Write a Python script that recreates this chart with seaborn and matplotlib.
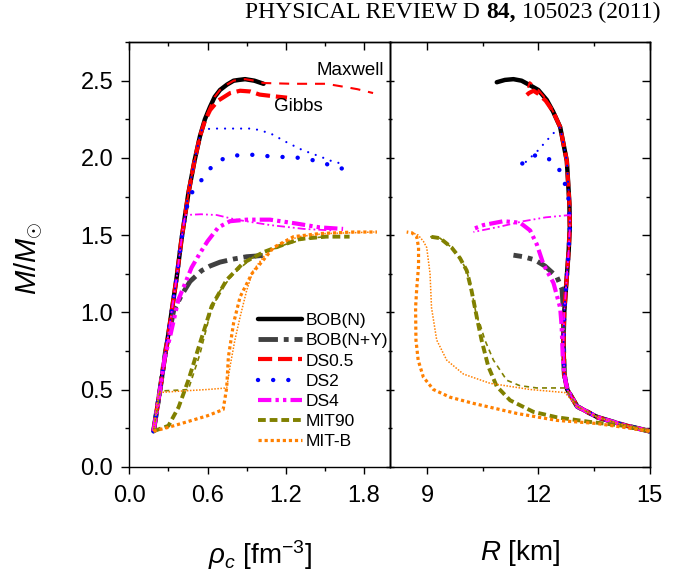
import matplotlib
matplotlib.use("Agg")
import matplotlib.pyplot as plt
import seaborn as sns
from matplotlib.ticker import MultipleLocator, FormatStrFormatter

# ---------------- data: left panel (central density, mass) ----------------
bobn_rho = [0.186, 0.236, 0.312, 0.364, 0.40, 0.453, 0.50, 0.542, 0.58, 0.619, 0.655, 0.696, 0.75, 0.80, 0.84, 0.888, 0.96, 1.03]
bobn_rho_M = [0.23, 0.50, 0.93, 1.23, 1.47, 1.77, 1.98, 2.14, 2.25, 2.33, 2.395, 2.44, 2.475, 2.50, 2.505, 2.51, 2.50, 2.48]

bobny_rho = [0.186, 0.236, 0.28, 0.31, 0.34, 0.40, 0.466, 0.555, 0.62, 0.696, 0.80, 0.90, 0.98, 1.05]
bobny_rho_M = [0.23, 0.50, 0.76, 0.88, 1.01, 1.11, 1.20, 1.27, 1.30, 1.325, 1.345, 1.36, 1.365, 1.37]

ds05g_rho = [0.186, 0.236, 0.312, 0.364, 0.40, 0.453, 0.50, 0.542, 0.58, 0.62, 0.68, 0.774, 0.85, 0.93, 1.0, 1.1, 1.21]
ds05g_rho_M = [0.23, 0.50, 0.93, 1.23, 1.47, 1.77, 1.98, 2.14, 2.24, 2.31, 2.37, 2.42, 2.435, 2.43, 2.41, 2.40, 2.39]
ds05m_rho = [0.186, 0.236, 0.312, 0.364, 0.40, 0.453, 0.50, 0.542, 0.58, 0.619, 0.655, 0.696, 0.75, 0.80, 0.84, 0.888, 0.96, 1.03, 1.25, 1.51, 1.65, 1.75, 1.87]
ds05m_rho_M = [0.23, 0.50, 0.93, 1.23, 1.47, 1.77, 1.98, 2.14, 2.25, 2.33, 2.395, 2.44, 2.475, 2.50, 2.505, 2.51, 2.50, 2.485, 2.48, 2.48, 2.46, 2.445, 2.42]

ds2g_rho = [0.186, 0.236, 0.312, 0.364, 0.40, 0.43, 0.455, 0.49, 0.53, 0.575, 0.619, 0.67, 0.734, 0.85, 0.96, 1.08, 1.20, 1.32, 1.44, 1.55, 1.68]
ds2g_rho_M = [0.23, 0.50, 0.93, 1.23, 1.47, 1.64, 1.73, 1.79, 1.83, 1.88, 1.93, 1.97, 2.00, 2.02, 2.02, 2.01, 2.005, 2.00, 1.98, 1.95, 1.92]
ds2m_rho = [0.186, 0.236, 0.312, 0.364, 0.40, 0.453, 0.50, 0.542, 0.558, 0.65, 0.80, 0.95, 1.08, 1.21, 1.33, 1.46, 1.55, 1.64]
ds2m_rho_M = [0.23, 0.50, 0.93, 1.23, 1.47, 1.77, 1.98, 2.14, 2.185, 2.19, 2.19, 2.19, 2.16, 2.10, 2.05, 2.01, 1.98, 1.96]

ds4g_rho = [0.186, 0.236, 0.27, 0.312, 0.376, 0.478, 0.54, 0.60, 0.683, 0.773, 0.90, 1.08, 1.28, 1.46, 1.64]
ds4g_rho_M = [0.23, 0.50, 0.70, 0.84, 1.08, 1.29, 1.38, 1.46, 1.55, 1.59, 1.60, 1.60, 1.575, 1.55, 1.54]
ds4m_rho = [0.186, 0.236, 0.312, 0.364, 0.40, 0.428, 0.55, 0.67, 0.82, 1.08, 1.34, 1.56]
ds4m_rho_M = [0.23, 0.50, 0.93, 1.23, 1.47, 1.63, 1.635, 1.63, 1.60, 1.565, 1.54, 1.53]

mit90g_rho = [0.186, 0.30, 0.378, 0.453, 0.542, 0.632, 0.747, 0.875, 1.03, 1.156, 1.31, 1.51, 1.69]
mit90g_rho_M = [0.23, 0.265, 0.385, 0.56, 0.80, 1.04, 1.21, 1.32, 1.39, 1.43, 1.475, 1.49, 1.49]
mit90m_rho = [0.186, 0.236, 0.30, 0.40, 0.453, 0.542, 0.62, 0.696, 0.80, 0.953, 1.08, 1.20, 1.35, 1.50]
mit90m_rho_M = [0.23, 0.49, 0.493, 0.497, 0.50, 0.73, 0.99, 1.14, 1.25, 1.36, 1.40, 1.44, 1.475, 1.49]

mitbg_rho = [0.186, 0.30, 0.44, 0.60, 0.72, 0.747, 0.76, 0.80, 0.85, 0.94, 1.03, 1.107, 1.26, 1.46, 1.72, 1.90]
mitbg_rho_M = [0.23, 0.255, 0.29, 0.33, 0.37, 0.51, 0.71, 0.93, 1.10, 1.25, 1.34, 1.42, 1.49, 1.51, 1.52, 1.52]
mitbm_rho = [0.186, 0.225, 0.40, 0.60, 0.747, 0.773, 0.81, 0.85, 0.90, 0.95, 1.03, 1.15, 1.30, 1.50, 1.70, 1.88]
mitbm_rho_M = [0.23, 0.48, 0.49, 0.50, 0.51, 0.65, 0.82, 0.97, 1.14, 1.27, 1.36, 1.44, 1.49, 1.51, 1.515, 1.52]

# ---------------- data: right panel (radius, mass) ----------------
bobn_R = [15.0, 14.3, 13.6, 13.05, 12.78, 12.70, 12.68, 12.70, 12.76, 12.82, 12.85, 12.84, 12.77, 12.59, 12.40, 12.23, 12.00, 11.78, 11.55, 11.33, 11.10, 10.88]
bobn_R_M = [0.23, 0.27, 0.32, 0.39, 0.50, 0.60, 0.80, 1.00, 1.20, 1.40, 1.55, 1.70, 1.98, 2.20, 2.30, 2.375, 2.44, 2.47, 2.50, 2.51, 2.505, 2.49]

bobny_R = [15.0, 14.3, 13.6, 13.05, 12.78, 12.70, 12.68, 12.68, 12.64, 12.5, 12.18, 11.9, 11.6, 11.33]
bobny_R_M = [0.23, 0.27, 0.32, 0.39, 0.50, 0.60, 0.80, 1.00, 1.15, 1.23, 1.30, 1.34, 1.36, 1.37]

ds05g_R = [15.0, 14.3, 13.6, 13.05, 12.78, 12.70, 12.68, 12.70, 12.76, 12.82, 12.85, 12.84, 12.77, 12.59, 12.40, 12.2, 12.0, 11.87, 11.75, 11.6]
ds05g_R_M = [0.23, 0.27, 0.32, 0.39, 0.50, 0.60, 0.80, 1.00, 1.20, 1.40, 1.55, 1.70, 1.98, 2.20, 2.30, 2.37, 2.415, 2.435, 2.42, 2.39]
ds05m_R = [15.0, 14.3, 13.6, 13.05, 12.78, 12.70, 12.68, 12.70, 12.76, 12.82, 12.85, 12.84, 12.77, 12.59, 12.40, 12.23, 12.00, 11.85, 11.77, 11.72]
ds05m_R_M = [0.23, 0.27, 0.32, 0.39, 0.50, 0.60, 0.80, 1.00, 1.20, 1.40, 1.55, 1.70, 1.98, 2.20, 2.30, 2.375, 2.44, 2.475, 2.49, 2.455]

ds2g_R = [15.0, 14.3, 13.6, 13.05, 12.78, 12.70, 12.68, 12.70, 12.76, 12.82, 12.85, 12.83, 12.67, 12.5, 12.38, 12.15, 11.96, 11.75, 11.55]
ds2g_R_M = [0.23, 0.27, 0.32, 0.39, 0.50, 0.60, 0.80, 1.00, 1.20, 1.40, 1.55, 1.72, 1.88, 1.95, 1.98, 2.01, 2.02, 2.0, 1.96]
ds2m_R = [15.0, 14.3, 13.6, 13.05, 12.78, 12.70, 12.68, 12.70, 12.76, 12.82, 12.85, 12.84, 12.77, 12.59, 12.41, 12.18, 12.0, 11.78, 11.6]
ds2m_R_M = [0.23, 0.27, 0.32, 0.39, 0.50, 0.60, 0.80, 1.00, 1.20, 1.40, 1.55, 1.70, 1.98, 2.20, 2.16, 2.10, 2.05, 2.0, 1.96]

ds4g_R = [15.0, 14.3, 13.6, 13.05, 12.78, 12.70, 12.66, 12.63, 12.59, 12.41, 12.14, 11.96, 11.78, 11.51, 11.06, 10.52, 10.25]
ds4g_R_M = [0.23, 0.27, 0.32, 0.39, 0.50, 0.60, 0.71, 0.91, 1.03, 1.19, 1.31, 1.44, 1.53, 1.58, 1.59, 1.565, 1.54]
ds4m_R = [15.0, 14.3, 13.6, 13.05, 12.78, 12.70, 12.68, 12.70, 12.76, 12.82, 12.85, 12.86, 12.2, 11.6, 10.97, 10.25]
ds4m_R_M = [0.23, 0.27, 0.32, 0.39, 0.50, 0.60, 0.80, 1.00, 1.20, 1.40, 1.55, 1.63, 1.615, 1.59, 1.555, 1.52]

mit90g_R = [15.0, 14.3, 13.4, 12.5, 11.87, 11.24, 10.88, 10.65, 10.47, 10.34, 10.20, 10.07, 9.89, 9.66, 9.35, 9.08]
mit90g_R_M = [0.23, 0.265, 0.29, 0.32, 0.355, 0.43, 0.52, 0.65, 0.82, 0.97, 1.14, 1.27, 1.35, 1.42, 1.48, 1.49]
mit90m_R = [15.0, 14.3, 13.6, 13.05, 12.78, 12.72, 11.96, 11.5, 11.15, 10.79, 10.56, 10.42, 10.34, 10.20, 10.07, 9.89, 9.66, 9.35, 9.08]
mit90m_R_M = [0.23, 0.27, 0.32, 0.39, 0.49, 0.51, 0.51, 0.525, 0.56, 0.69, 0.82, 0.93, 0.97, 1.14, 1.27, 1.35, 1.42, 1.48, 1.49]

mitbg_R = [15.0, 14.3, 13.57, 12.5, 11.42, 10.25, 9.62, 9.17, 8.90, 8.76, 8.70, 8.69, 8.72, 8.77, 8.77, 8.72, 8.59, 8.45]
mitbg_R_M = [0.23, 0.255, 0.28, 0.30, 0.345, 0.41, 0.45, 0.50, 0.58, 0.69, 0.82, 1.03, 1.15, 1.30, 1.42, 1.49, 1.515, 1.52]
mitbm_R = [15.0, 14.3, 13.6, 13.05, 12.72, 11.78, 10.70, 9.98, 9.53, 9.26, 9.12, 9.08, 8.99, 8.90, 8.76, 8.60]
mitbm_R_M = [0.23, 0.27, 0.32, 0.39, 0.48, 0.50, 0.54, 0.60, 0.69, 0.82, 1.03, 1.25, 1.42, 1.46, 1.50, 1.515]

legend_labels = ["BOB(N)", "BOB(N+Y)", "DS0.5", "DS2", "DS4", "MIT90", "MIT-B"]
x_ticks_rho = [0.0, 0.6, 1.2, 1.8]
x_ticks_R = [9, 12, 15]
y_ticks = [0.0, 0.5, 1.0, 1.5, 2.0, 2.5]

# ---------------- style ----------------
sns.set_theme(style="ticks")
plt.rcParams["font.family"] = ["Liberation Sans", "DejaVu Sans"]
plt.rcParams["mathtext.fontset"] = "custom"
plt.rcParams["mathtext.rm"] = "Liberation Sans"
plt.rcParams["mathtext.it"] = "Liberation Sans:italic"
plt.rcParams["mathtext.bf"] = "Liberation Sans:bold"
plt.rcParams["axes.linewidth"] = 1.0
for k in ("axes.edgecolor", "xtick.color", "ytick.color", "text.color",
          "axes.labelcolor", "xtick.labelcolor", "ytick.labelcolor"):
    plt.rcParams[k] = "black"

BLACK, GRAY, RED, BLUE, MAG, OLIVE, ORANGE = "#000000", "#404040", "#FF0000", "#0000FF", "#FF00FF", "#808000", "#FF8000"

styles = {
    "bobn":  dict(color=BLACK, lw=3.2, ls="-", cap="butt", z=2.0),
    "bobny": dict(color=GRAY, lw=3.5, ls=(0, (4, 1.2, 1, 1.2)), cap="butt", z=2.1),
    "ds05m": dict(color=RED, lw=1.5, ls=(0, (4.8, 3.8)), cap="butt", z=2.2),
    "ds05g": dict(color=RED, lw=3.0, ls=(0, (3.4, 1.4)), cap="butt", z=2.3),
    "ds2m":  dict(color=BLUE, lw=1.6, ls=(0, (0.01, 3.6)), cap="round", z=2.4),
    "ds2g":  dict(color=BLUE, lw=3.2, ls=(0, (0.01, 3.4)), cap="round", z=2.5),
    "ds4m":  dict(color=MAG, lw=1.3, ls=(0, (4.4, 1.7, 1, 1.7, 1, 1.7)), cap="butt", z=2.6),
    "ds4g":  dict(color=MAG, lw=3.0, ls=(0, (3.2, 1, 0.8, 1, 0.8, 1)), cap="butt", z=2.7),
    "mit90m": dict(color=OLIVE, lw=1.2, ls=(0, (3, 2.4)), cap="butt", z=2.8),
    "mit90g": dict(color=OLIVE, lw=2.8, ls=(0, (2, 1)), cap="butt", z=2.9),
    "mitbm": dict(color=ORANGE, lw=1.1, ls=(0, (1, 1)), cap="butt", z=3.0),
    "mitbg": dict(color=ORANGE, lw=2.3, ls=(0, (1, 0.9)), cap="butt", z=3.1),
}


def draw(ax, key, x, y):
    s = styles[key]
    sns.lineplot(x=x, y=y, ax=ax, sort=False, estimator=None, color=s["color"],
                 linewidth=s["lw"], linestyle=s["ls"], zorder=s["z"],
                 dash_capstyle=s["cap"], legend=False)
    return ax.lines[-1]


fig = plt.figure(figsize=(6.89, 5.73), dpi=100)
W, H = 689.0, 573.0
ax1 = fig.add_axes([129.3 / W, (H - 466.7) / H, 260.7 / W, 424.6 / H])
ax2 = fig.add_axes([390.0 / W, (H - 466.7) / H, 259.5 / W, 424.6 / H])
ax2.patch.set_alpha(0.0)

left_sets = [
    ("bobn", bobn_rho, bobn_rho_M), ("bobny", bobny_rho, bobny_rho_M),
    ("ds05m", ds05m_rho, ds05m_rho_M), ("ds05g", ds05g_rho, ds05g_rho_M),
    ("ds2m", ds2m_rho, ds2m_rho_M), ("ds2g", ds2g_rho, ds2g_rho_M),
    ("ds4m", ds4m_rho, ds4m_rho_M), ("ds4g", ds4g_rho, ds4g_rho_M),
    ("mit90m", mit90m_rho, mit90m_rho_M), ("mit90g", mit90g_rho, mit90g_rho_M),
    ("mitbm", mitbm_rho, mitbm_rho_M), ("mitbg", mitbg_rho, mitbg_rho_M),
]
right_sets = [
    ("bobn", bobn_R, bobn_R_M), ("bobny", bobny_R, bobny_R_M),
    ("ds05m", ds05m_R, ds05m_R_M), ("ds05g", ds05g_R, ds05g_R_M),
    ("ds2m", ds2m_R, ds2m_R_M), ("ds2g", ds2g_R, ds2g_R_M),
    ("ds4m", ds4m_R, ds4m_R_M), ("ds4g", ds4g_R, ds4g_R_M),
    ("mit90m", mit90m_R, mit90m_R_M), ("mit90g", mit90g_R, mit90g_R_M),
    ("mitbm", mitbm_R, mitbm_R_M), ("mitbg", mitbg_R, mitbg_R_M),
]

handles = {}
for key, x, y in left_sets:
    handles[key] = draw(ax1, key, x, y)
for key, x, y in right_sets:
    draw(ax2, key, x, y)

# ---------------- axes ----------------
TICK = dict(labelsize=17, width=1.0)
for ax in (ax1, ax2):
    ax.set_ylim(0, 2.75)
    ax.set_yticks(y_ticks)
    ax.yaxis.set_minor_locator(MultipleLocator(0.25))
    ax.yaxis.set_major_formatter(FormatStrFormatter("%.1f"))
    ax.set_xlabel("")
    ax.set_ylabel("")
    for sp in ax.spines.values():
        sp.set_visible(True)
        sp.set_linewidth(1.0)
        sp.set_color("black")

ax1.set_xlim(0, 2.0)
ax1.set_xticks(x_ticks_rho)
ax1.xaxis.set_minor_locator(MultipleLocator(0.3))
ax1.xaxis.set_major_formatter(FormatStrFormatter("%.1f"))
ax2.set_xlim(8, 15)
ax2.set_xticks(x_ticks_R)
ax2.xaxis.set_minor_locator(MultipleLocator(1.5))
ax2.xaxis.set_major_formatter(FormatStrFormatter("%d"))

for ax in (ax1, ax2):
    ax.tick_params(axis="x", which="major", direction="out", length=5, pad=8.5, top=False, **TICK)
    ax.tick_params(axis="x", which="minor", direction="out", length=3, width=1.0, top=False)
    # top ticks pointing inward
    sec = ax.secondary_xaxis("top")
    sec.set_xticks(ax.get_xticks())
    sec.xaxis.set_minor_locator(ax.xaxis.get_minor_locator())
    sec.tick_params(which="major", direction="in", length=5.5, width=1.0, labeltop=False)
    sec.tick_params(which="minor", direction="in", length=3, width=1.0)
    sec.spines["top"].set_linewidth(1.0)

ax1.tick_params(axis="y", which="major", direction="out", length=5.5, pad=6, right=False, **TICK)
ax1.tick_params(axis="y", which="minor", direction="out", length=3, width=1.0, right=False)
s1 = ax1.secondary_yaxis("right")
s1.set_yticks(y_ticks)
s1.yaxis.set_minor_locator(MultipleLocator(0.25))
s1.tick_params(which="major", direction="inout", length=6, width=1.0, labelright=False)
s1.tick_params(which="minor", direction="inout", length=3.5, width=1.0)

ax2.tick_params(axis="y", which="both", left=False, labelleft=False, right=False)
s2 = ax2.secondary_yaxis("right")
s2.set_yticks(y_ticks)
s2.yaxis.set_minor_locator(MultipleLocator(0.25))
s2.tick_params(which="major", direction="in", length=5.5, width=1.0, labelright=False)
s2.tick_params(which="minor", direction="in", length=3, width=1.0)

# axis labels
ax1.set_xlabel(r"$\rho_c$ [fm$^{-3}$]", fontsize=20)
ax1.xaxis.set_label_coords(0.5, -0.168)
ax2.set_xlabel(r"$R$ [km]", fontsize=20)
ax2.xaxis.set_label_coords(0.5, -0.168)
ax1.set_ylabel(r"$M/M_{\odot}$", fontsize=21)
ax1.yaxis.set_label_coords(-0.322, 0.49)

# annotations
ax1.text(1.438, 2.563, "Maxwell", fontsize=13.5, ha="left", va="center")
ax1.text(1.112, 2.336, "Gibbs", fontsize=13.5, ha="left", va="center")

# legend
order = ["bobn", "bobny", "ds05g", "ds2g", "ds4g", "mit90g", "mitbg"]
leg = ax1.legend([handles[k] for k in order], legend_labels, loc="upper left",
                 bbox_to_anchor=(0.495, 0.362), frameon=False, fontsize=12.5,
                 handlelength=2.5, handletextpad=0.23, labelspacing=0.29,
                 borderpad=0, borderaxespad=0)
leg.set_zorder(10)

# header (journal line) with bold volume number
fig.canvas.draw()
renderer = fig.canvas.get_renderer()
hx = 660.0 / W
hy = (H - 18.0) / H
parts = [("PHYSICAL REVIEW D ", "normal"), ("84,", "bold"), (" 105023 (2011)", "normal")]
x_right = hx
for txt, wt in reversed(parts):
    t = fig.text(x_right, hy, txt, ha="right", va="baseline", fontsize=17,
                 family=["Liberation Serif", "DejaVu Serif"], fontweight=wt)
    bb = t.get_window_extent(renderer=renderer)
    x_right -= bb.width / fig.bbox.width

fig.savefig("out.png", dpi=100)
